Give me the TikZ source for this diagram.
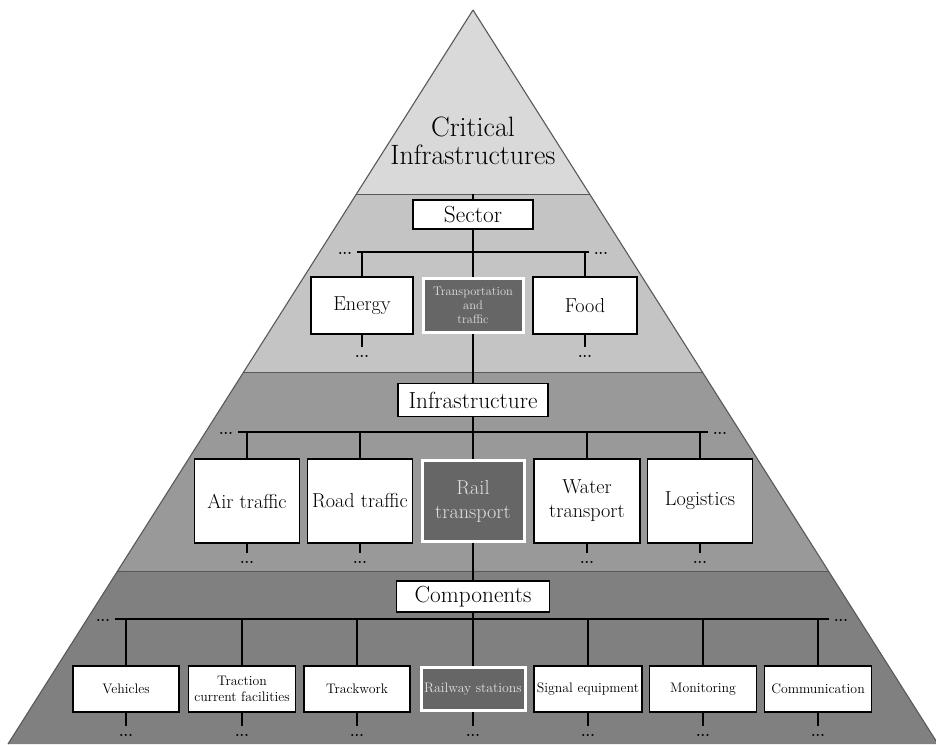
\documentclass[tikz,border=0pt]{standalone}
\usetikzlibrary{calc}
\definecolor{bandA}{gray}{0.85}
\definecolor{bandB}{gray}{0.77}
\definecolor{bandC}{gray}{0.60}
\definecolor{bandD}{gray}{0.50}
\definecolor{hlgray}{gray}{0.40}
\definecolor{edgegray}{gray}{0.35}
\begin{document}
\begin{tikzpicture}[x=1pt,y=-1pt,
  box/.style={draw=black,line width=1.6,fill=white,align=center,inner sep=1pt},
  hl/.style={box,draw=white,line width=3,fill=hlgray,text=white!88!black},
  big/.style={font=\fontsize{20.2}{24}\selectfont},
  head/.style={font=\fontsize{23.3}{26}\selectfont},
  small/.style={font=\fontsize{13.8}{15.5}\selectfont},
  dotsnode/.style={font=\fontsize{14.5}{14.5}\bfseries\selectfont,inner sep=0pt,outer sep=5.5pt,text height=5.6pt,text depth=0pt},
  conn/.style={line width=1.7,draw=black}]
\useasboundingbox (0,0) rectangle (936,744);
% pyramid bands
\begin{scope}
  \clip (473,10) -- (938,744) -- (8,744) -- cycle;
  \fill[bandA] (0,0) rectangle (936,194);
  \fill[bandB] (0,194) rectangle (936,372);
  \fill[bandC] (0,372) rectangle (936,571);
  \fill[bandD] (0,571) rectangle (936,745);
  \draw[edgegray,line width=0.9] (0,194) -- (936,194);
  \draw[edgegray,line width=0.9] (0,372) -- (936,372);
  \draw[edgegray,line width=0.9] (0,571) -- (936,571);
\end{scope}
\draw[edgegray,line width=1.1] (473,10) -- (938,744) (8,744) -- (473,10);

% title
\node[font=\fontsize{28}{28}\selectfont,align=center] (title) at (473,141) {Critical\\Infrastructures};

% Sector level
\coordinate (top) at (473,194);
\node[box,head,minimum width=120,minimum height=29] (sector) at (473,214.5) {Sector};
\node[dotsnode] (sl) at (345,252) {...};
\node[dotsnode] (sr) at (601,252) {...};
\node[box,big,minimum width=102,minimum height=57] (energy) at (362,305.5) {Energy};
\node[hl,font=\fontsize{12.4}{14}\selectfont,minimum width=100,minimum height=54] (trans) at (473,305.5) {Transportation\\and\\traffic};
\node[box,big,minimum width=104,minimum height=57] (food) at (585,305.5) {Food};
\node[dotsnode] (ed) at (362,355) {...};
\node[dotsnode] (fd) at (585,355) {...};

% Infrastructure level
\node[box,head,minimum width=150,minimum height=33] (infra) at (473,400) {Infrastructure};
\node[dotsnode] (il) at (226,432) {...};
\node[dotsnode] (ir) at (720,432) {...};
\node[box,big,minimum width=105,minimum height=84] (air) at (247,501) {Air traffic};
\node[box,big,minimum width=105,minimum height=84] (road) at (360,501) {Road traffic};
\node[hl,big,minimum width=102,minimum height=81] (rail) at (473,501) {Rail\\transport};
\node[box,big,minimum width=106,minimum height=84] (water) at (587,501) {Water\\transport};
\node[box,big,minimum width=105,minimum height=84] (logi) at (700,501) {Logistics};
\node[dotsnode] (ad) at (247,561) {...};
\node[dotsnode] (rd) at (360,561) {...};
\node[dotsnode] (wd) at (587,561) {...};
\node[dotsnode] (ld) at (700,561) {...};

% Components level
\node[box,head,minimum width=153,minimum height=31] (comp) at (473,596.5) {Components};
\node[dotsnode] (cl) at (103,619) {...};
\node[dotsnode] (cr) at (841,619) {...};
\node[box,small,minimum width=106,minimum height=46] (veh) at (126,689) {Vehicles};
\node[box,small,minimum width=107,minimum height=46] (trac) at (242,689) {Traction\\current facilities};
\node[box,small,minimum width=106,minimum height=46] (track) at (357,689) {Trackwork};
\node[hl,small,minimum width=104,minimum height=43] (rst) at (473,689) {Railway stations};
\node[box,small,minimum width=108,minimum height=46] (sig) at (588,689) {Signal equipment};
\node[box,small,minimum width=107,minimum height=46] (mon) at (703,689) {Monitoring};
\node[box,small,minimum width=107,minimum height=46] (com) at (818,689) {Communication};
\node[dotsnode] (vd) at (126,734) {...};
\node[dotsnode] (td) at (242,734) {...};
\node[dotsnode] (kd) at (357,734) {...};
\node[dotsnode] (sd) at (473,734) {...};
\node[dotsnode] (gd) at (588,734) {...};
\node[dotsnode] (md) at (703,734) {...};
\node[dotsnode] (od) at (818,734) {...};

% connectors: sector level
\draw[conn] (top) -- (sector);
\draw[conn] (sector) -- (trans);
\draw[conn] (sl) -- (sr);
\draw[conn] (energy.north) -- (energy.north |- sl);
\draw[conn] (food.north) -- (food.north |- sr);
\draw[conn] (energy) -- (ed);
\draw[conn] (food) -- (fd);
\draw[conn] (trans) -- (infra);

% infrastructure level
\draw[conn] (infra) -- (rail);
\draw[conn] (il) -- (ir);
\foreach \n in {air,road,water,logi}{
  \draw[conn] (\n.north) -- (\n.north |- il);
}
\draw[conn] (air) -- (ad);
\draw[conn] (road) -- (rd);
\draw[conn] (water) -- (wd);
\draw[conn] (logi) -- (ld);
\draw[conn] (rail) -- (comp);

% components level
\draw[conn] (comp) -- (rst);
\draw[conn] (cl) -- (cr);
\foreach \n in {veh,trac,track,sig,mon,com}{
  \draw[conn] (\n.north) -- (\n.north |- cl);
}
\draw[conn] (veh) -- (vd);
\draw[conn] (trac) -- (td);
\draw[conn] (track) -- (kd);
\draw[conn] (rst) -- (sd);
\draw[conn] (sig) -- (gd);
\draw[conn] (mon) -- (md);
\draw[conn] (com) -- (od);
\end{tikzpicture}
\end{document}
